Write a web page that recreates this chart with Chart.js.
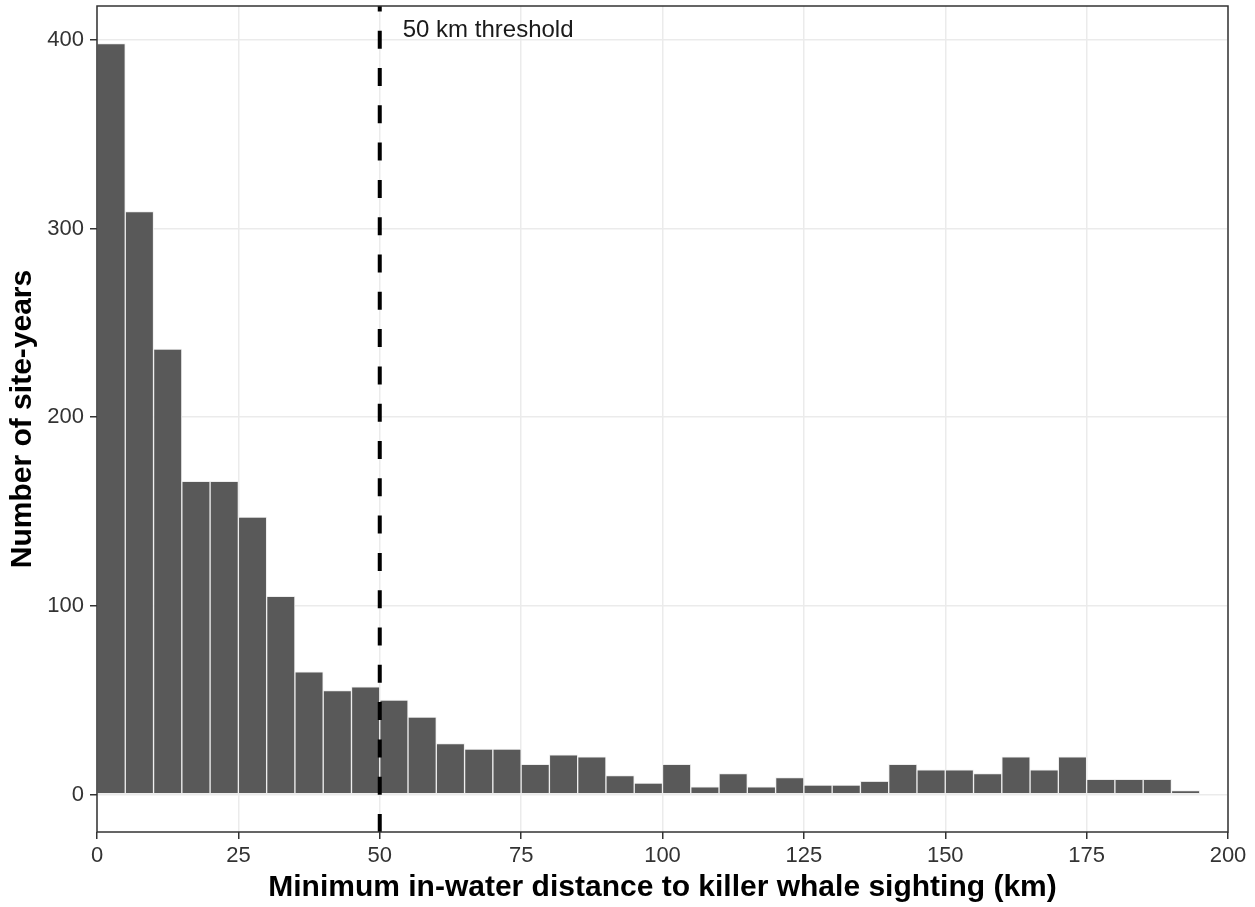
<!DOCTYPE html>
<html>
<head>
<meta charset="utf-8">
<script src="https://cdn.jsdelivr.net/npm/chart.js@4.4.1/dist/chart.umd.min.js"></script>
<style>
  html, body { margin: 0; padding: 0; background: #ffffff; }
  #wrap { width: 1255px; height: 907px; }
</style>
</head>
<body>
<div id="wrap"><canvas id="c" width="1255" height="907"></canvas></div>
<script>
// ---- data ----
const binStart = [0, 5, 10, 15, 20, 25, 30, 35, 40, 45,
                  50, 55, 60, 65, 70, 75, 80, 85, 90, 95,
                  100, 105, 110, 115, 120, 125, 130, 135, 140, 145,
                  150, 155, 160, 165, 170, 175, 180, 185, 190];
const binWidth = 5;
const counts = [398, 309, 236, 166, 166, 147, 105, 65, 55, 57,
                50, 41, 27, 24, 24, 16, 21, 20, 10, 6,
                16, 4, 11, 4, 9, 5, 5, 7, 16, 13,
                13, 11, 20, 13, 20, 8, 8, 8, 2];
const xTicks = [0, 25, 50, 75, 100, 125, 150, 175, 200];
const yTicks = [0, 100, 200, 300, 400];
const thresholdKm = 50;
const thresholdLabel = "50 km threshold";
const xTitle = "Minimum in-water distance to killer whale sighting (km)";
const yTitle = "Number of site-years";

const FONT = "'Liberation Sans', Arial, Helvetica, sans-serif";

const extras = {
  id: 'extras',
  afterDatasetsDraw(chart) {
    const {ctx, chartArea: a, scales: {x, y}} = chart;
    ctx.save();
    const px = x.getPixelForValue(thresholdKm);
    ctx.beginPath();
    ctx.rect(a.left, a.top, a.right - a.left, a.bottom - a.top);
    ctx.clip();
    ctx.strokeStyle = '#000000';
    ctx.lineWidth = 4;
    ctx.setLineDash([18, 19.3]);
    ctx.beginPath();
    ctx.moveTo(px, a.bottom);
    ctx.lineTo(px, a.top);
    ctx.stroke();
    ctx.restore();

    ctx.save();
    ctx.fillStyle = '#1a1a1a';
    ctx.font = "24px " + FONT;
    ctx.textAlign = 'left';
    ctx.textBaseline = 'middle';
    ctx.fillText(thresholdLabel, px + 23, y.getPixelForValue(405));
    ctx.strokeStyle = '#333333';
    ctx.lineWidth = 1.5;
    ctx.setLineDash([]);
    ctx.strokeRect(a.left, a.top, a.right - a.left, a.bottom - a.top);
    ctx.restore();
  }
};

new Chart(document.getElementById('c'), {
  type: 'bar',
  data: {
    datasets: [{
      data: binStart.map((s, i) => ({x: s + binWidth / 2, y: counts[i]})),
      backgroundColor: '#595959',
      borderColor: '#eeeeee',
      borderWidth: 1,
      barPercentage: 1,
      categoryPercentage: 1,
      borderSkipped: false
    }]
  },
  options: {
    responsive: false,
    devicePixelRatio: 1,
    animation: false,
    layout: { padding: { left: 0, top: 6, right: 27, bottom: 0 } },
    plugins: { legend: { display: false }, tooltip: { enabled: false } },
    scales: {
      x: {
        type: 'linear',
        min: 0,
        max: 200,
        offset: false,
        afterBuildTicks: s => { s.ticks = xTicks.map(v => ({value: v})); },
        afterFit: s => { s.height = 75; s.paddingLeft = 0; s.paddingRight = 0; },
        ticks: { font: { size: 22, family: FONT }, color: '#333333', padding: 4, maxRotation: 0, autoSkip: false },
        grid: { offset: false, color: '#ebebeb', lineWidth: 1.5, tickLength: 7, tickColor: '#333333', tickWidth: 1.5 },
        border: { display: false },
        title: { display: true, text: xTitle, color: '#000000',
                 font: { size: 30, weight: 'bold', family: FONT }, padding: { top: 0, bottom: 1 } }
      },
      y: {
        type: 'linear',
        min: -19.9,
        max: 417.9,
        afterBuildTicks: s => { s.ticks = yTicks.map(v => ({value: v})); },
        afterFit: s => { s.width = 97; s.paddingTop = 0; s.paddingBottom = 0; },
        ticks: { font: { size: 22, family: FONT }, color: '#333333', padding: 6 },
        grid: { color: '#ebebeb', lineWidth: 1.5, tickLength: 7, tickColor: '#333333', tickWidth: 1.5 },
        border: { display: false },
        title: { display: true, text: yTitle, color: '#000000',
                 font: { size: 30, weight: 'bold', family: FONT }, padding: { top: 4.5, bottom: 0 } }
      }
    }
  },
  plugins: [extras]
});
</script>
</body>
</html>
